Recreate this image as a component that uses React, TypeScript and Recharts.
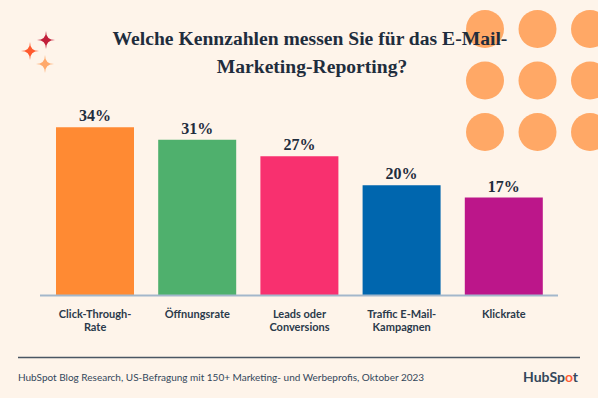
import { Bar, BarChart, Cell, LabelList, XAxis, YAxis } from 'recharts';

const categories = [
  ['Click-Through-', 'Rate'],
  ['Öffnungsrate'],
  ['Leads oder', 'Conversions'],
  ['Traffic E-Mail-', 'Kampagnen'],
  ['Klickrate'],
];
const shares = [34, 31, 27, 20, 17];
const barColors = ['#FF8A33', '#4FB06D', '#F8306F', '#0066AE', '#BC168A'];

// the original's bars are not drawn from zero; this is the floor its axis line sits at
const AXIS_FLOOR = -6.7;
const AXIS_TOP = 40.6;

const data = shares.map((value, i) => ({ key: String(i), value }));

const INK = '#1F2D3D';
const LABEL_INK = '#2B3A4B';

function CategoryTick({ x, y, payload }: { x?: number; y?: number; payload?: { value: string } }) {
  const lines = categories[Number(payload?.value ?? 0)] ?? [];
  return (
    <g>
      {lines.map((line, i) => (
        <text
          key={line}
          x={x}
          y={(y ?? 0) + 22 + i * 13.5}
          textAnchor="middle"
          fontFamily="Lato, 'Noto Sans', sans-serif"
          fontWeight={700}
          fontSize={11}
          fill={LABEL_INK}
        >
          {line}
        </text>
      ))}
    </g>
  );
}

function ShareLabel(props: { x?: number; y?: number; width?: number; value?: number }) {
  const { x = 0, y = 0, width = 0, value } = props;
  return (
    <text
      x={x + width / 2}
      y={y - 6}
      textAnchor="middle"
      fontFamily="'Liberation Serif', serif"
      fontWeight={700}
      fontSize={16}
      fill={INK}
    >
      {value}%
    </text>
  );
}

function star(cx: number, cy: number, r: number) {
  return `M${cx},${cy - r} Q${cx},${cy} ${cx + r},${cy} Q${cx},${cy} ${cx},${cy + r} Q${cx},${cy} ${cx - r},${cy} Q${cx},${cy} ${cx},${cy - r} Z`;
}

const dotCols = [485, 537.5, 590];
const dotRows = [29, 80.5, 132];

export default function App() {
  return (
    <div
      style={{
        position: 'absolute',
        left: 0,
        top: 0,
        width: 598,
        height: 398,
        background: '#FEF4EA',
        overflow: 'hidden',
      }}
    >
      <svg width={598} height={398} style={{ position: 'absolute', left: 0, top: 0 }}>
        {dotRows.map((cy) =>
          dotCols.map((cx) => <circle key={`${cx}-${cy}`} cx={cx} cy={cy} r={19} fill="#FFA866" />),
        )}
        <path d={star(46, 40, 9)} fill="#C11F3A" />
        <path d={star(30, 51, 9)} fill="#FF5A2E" />
        <path d={star(45, 64, 9)} fill="#FFA96B" />
      </svg>

      <div style={{ position: 'absolute', left: 0, top: 0 }}>
        <BarChart width={598} height={398} data={data} margin={{ top: 100, right: 40, left: 40, bottom: 0 }}>
          <YAxis hide domain={[AXIS_FLOOR, AXIS_TOP]} />
          <XAxis
            dataKey="key"
            height={102.5}
            padding={{ left: 4, right: 3 }}
            axisLine={{ stroke: '#A3B7CB', strokeWidth: 2 }}
            tickLine={false}
            tickSize={0}
            tickMargin={0}
            interval={0}
            tick={<CategoryTick />}
          />
          <Bar dataKey={(d: { value: number }) => [AXIS_FLOOR, d.value]} barSize={78} isAnimationActive={false}>
            {data.map((d, i) => (
              <Cell key={d.key} fill={barColors[i]} />
            ))}
            <LabelList dataKey="value" content={<ShareLabel />} />
          </Bar>
        </BarChart>
      </div>

      <svg width={598} height={398} style={{ position: 'absolute', left: 0, top: 0, pointerEvents: 'none' }}>
        <g fontFamily="'Liberation Serif', serif" fontWeight={700} fontSize={19.6} fill={INK} textAnchor="middle">
          <text x={310} y={45}>Welche Kennzahlen messen Sie für das E-Mail-</text>
          <text x={312} y={73}>Marketing-Reporting?</text>
        </g>
        <line x1={18} x2={580} y1={357.5} y2={357.5} stroke="#4A5663" strokeWidth={1.5} />
        <text x={18} y={381} fontFamily="Lato, 'Noto Sans', sans-serif" fontSize={10} fill="#33475B">
          HubSpot Blog Research, US-Befragung mit 150+ Marketing- und Werbeprofis, Oktober 2023
        </text>
        <text
          x={578}
          y={382}
          textAnchor="end"
          fontFamily="Lato, 'Noto Sans', sans-serif"
          fontWeight={700}
          fontSize={14}
          fill="#33475B"
        >
          HubSp<tspan fill="#FF5C35">o</tspan>t
        </text>
      </svg>
    </div>
  );
}
